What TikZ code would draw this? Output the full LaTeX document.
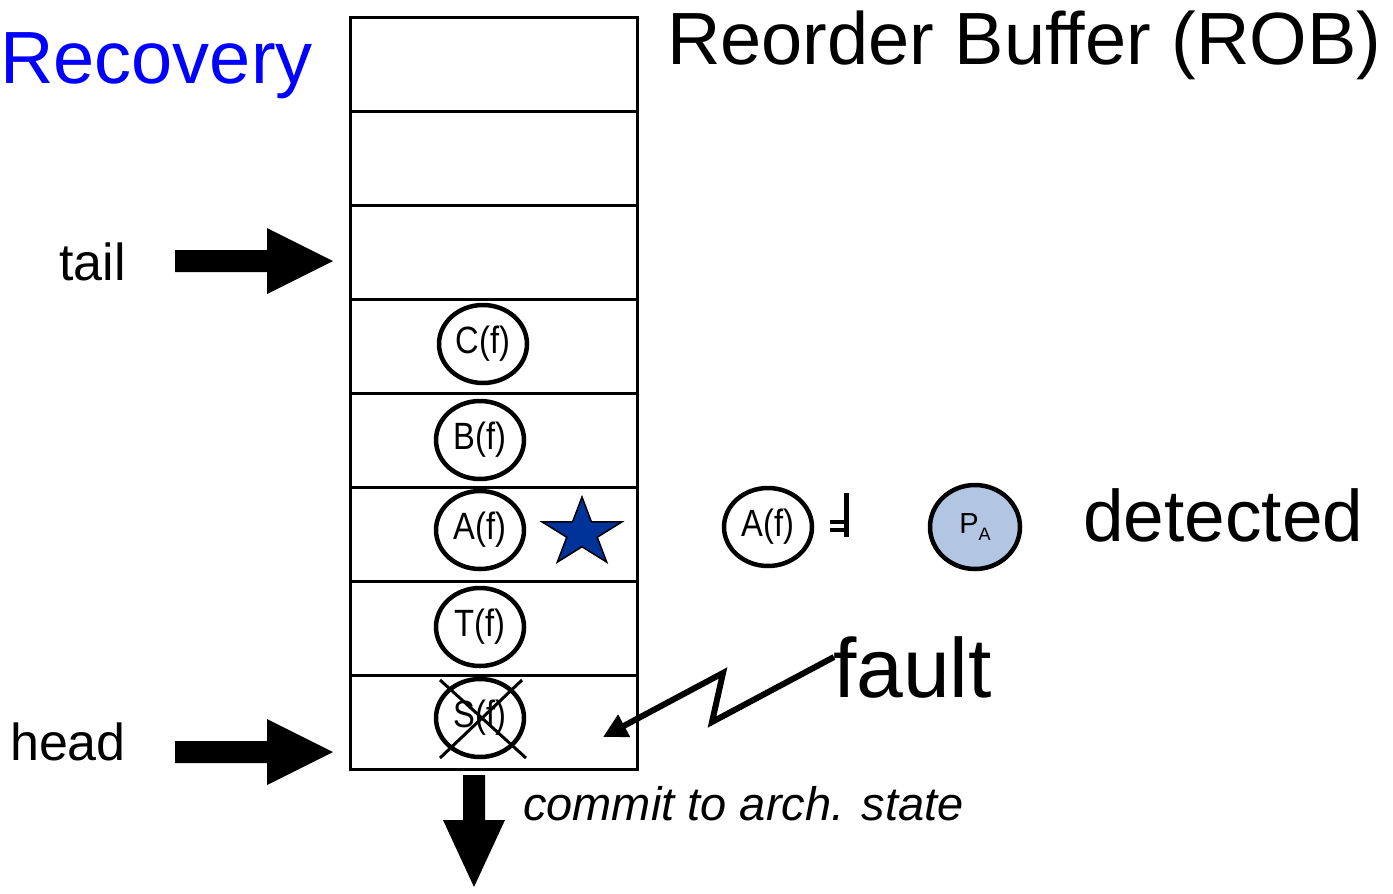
\documentclass[tikz,border=0pt]{standalone}
\usepackage{fontspec}
\setmainfont{Liberation Sans}
\usetikzlibrary{shapes.geometric,arrows.meta,calc}
\definecolor{recblue}{RGB}{0,0,255}
\definecolor{starblue}{RGB}{0,51,153}
\definecolor{pfill}{RGB}{178,198,228}
\newcommand{\fsz}[1]{\fontsize{#1}{#1}\selectfont}
\newcommand{\narrow}[1]{\scalebox{0.86}[1]{#1}}

\begin{document}
\begin{tikzpicture}[x=1pt,y=-1pt,
  cell/.style={draw,line width=3pt,minimum width=287pt,minimum height=94.1pt,inner sep=0pt,outer sep=0pt},
  instr/.style={ellipse,draw,line width=4.5pt,minimum width=88pt,minimum height=78pt,inner sep=0pt,font=\fsz{38}},
  label/.style={inner sep=0pt,font=\fsz{52}},
  big/.style={inner sep=0pt,font=\fsz{74}},
  blockfill/.style={fill=black}
]
\useasboundingbox (0,0) rectangle (1393,894);

% ROB entries, top to bottom
\foreach \i in {1,...,8}
  \node[cell] (r\i) at (493.5,{17+94.125*(\i-0.5)}) {};

% instructions held in the ROB
\node[instr] (cC) at (483,344) {\narrow{C(f)}};
\node[instr] (cB) at (480,440) {\narrow{B(f)}};
\node[instr] (cA) at (480,530) {\narrow{A(f)}};
\node[instr] (cT) at (480,627) {\narrow{T(f)}};
\node[instr] (cS) at (480,718) {\narrow{S(f)}};
\draw[line width=3pt] ($(cS.center)+(-40,-38)$) -- ($(cS.center)+(46,40)$)
                      ($(cS.center)+(42,-38)$) -- ($(cS.center)+(-40,40)$);

% star marking the excepting instruction
\node[star,star points=5,star point ratio=2.618,minimum size=72pt,inner sep=0pt,
      draw,line width=1.5pt,fill=starblue,transform shape,xscale=1.167] (st) at (582,533) {};

% titles and labels
\node[big,text=recblue,anchor=base west] (rec) at (0,83) {Recovery};
\node[big,anchor=base west] (title) at (667,64) {Reorder Buffer (ROB)};
\node[label,anchor=base east] (tail) at (126,280) {tail};
\node[label,anchor=base east] (head) at (126,760) {head};
\node[inner sep=0pt,anchor=base west,font=\fsz{47}\itshape] (commit) at (523,820) {commit to arch. state};
\node[inner sep=0pt,anchor=base west,font=\fsz{84}] (fault) at (833,697) {fault};
\node[inner sep=0pt,anchor=base west,font=\fsz{73}] (det) at (1083,541) {detected};

% A(f) and its physical register
\node[instr] (oA) at (768,527) {\narrow{A(f)}};
\coordinate (rel) at (840,515);
\fill ($(rel)+(-10,5)$) rectangle ++(18,3.5);
\fill ($(rel)+(-10,13)$) rectangle ++(18,3.5);
\fill ($(rel)+(4,-22)$) rectangle ++(5,44);
\node[ellipse,draw,line width=4.5pt,fill=pfill,minimum width=90pt,minimum height=84pt,inner sep=0pt] (pA)
  at (975,527) {\fsz{29}P\raisebox{-7pt}{\fsz{18}A}};

% tail and head pointers
\coordinate (tailtip) at (333,261);
\coordinate (headtip) at (333,752);
\foreach \t in {tailtip,headtip}
  \fill[blockfill] (\t) -- ++(-66,-33) -- ++(0,22) -- ++(-92,0) -- ++(0,22)
                   -- ++(92,0) -- ++(0,22) -- cycle;

% commit arrow out of the head entry
\coordinate (out) at (474,887);
\fill[blockfill] (out) -- ++(-31,-67) -- ++(20,0) -- ++(0,-45) -- ++(22,0)
                 -- ++(0,45) -- ++(20,0) -- cycle;

% lightning bolt from the fault label into the head entry
\coordinate (zstart) at (834,657);
\coordinate (hit) at (603,737);
\draw[line width=6pt,line join=miter,-{Triangle[length=24pt,width=24pt]}]
  (zstart) -- (712,722) -- (723,673) -- (hit);
\end{tikzpicture}
\end{document}
